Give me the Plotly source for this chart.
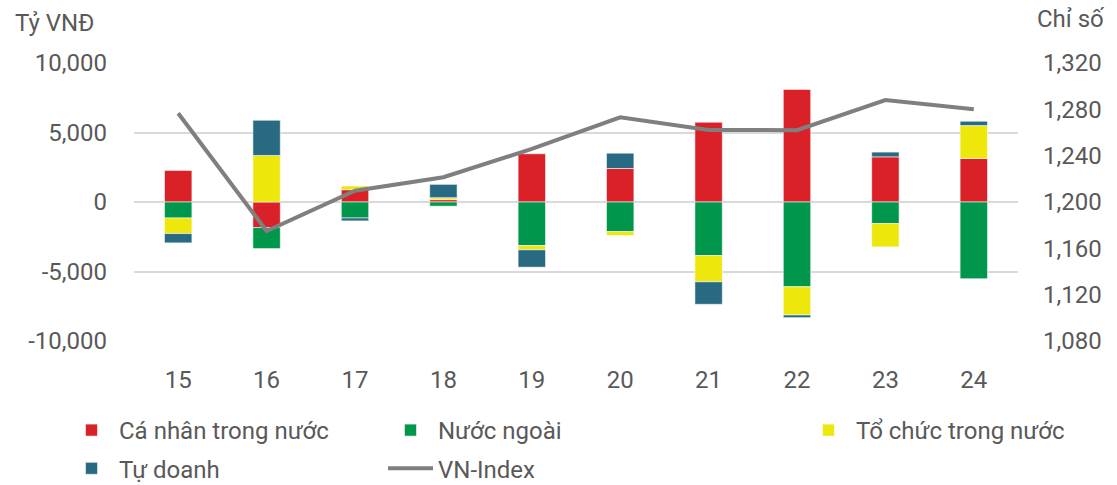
import plotly.graph_objects as go

categories = ["15", "16", "17", "18", "19", "20", "21", "22", "23", "24"]
ca_nhan = [2270, -1840, 885, 170, 3470, 2410, 5740, 8100, 3250, 3130]
nuoc_ngoai = [-1150, -1510, -1150, -300, -3130, -2130, -3850, -6100, -1550, -5520]
to_chuc = [-1120, 3350, 265, 140, -310, -280, -1890, -2030, -1680, 2370]
tu_doanh = [-670, 2530, -210, 960, -1250, 1100, -1620, -190, 340, 310]
vn_index = [1276.6, 1175, 1209.8, 1221.4, 1245.8, 1273.1, 1262.2, 1262, 1288, 1280]

left_ticks = [-10000, -5000, 0, 5000, 10000]
right_ticks = [1080, 1120, 1160, 1200, 1240, 1280, 1320]

FONT = "Roboto"
GREY = "#595959"
edge = dict(color="rgba(255,255,255,0.7)", width=0.8)

fig = go.Figure()
fig.add_bar(x=categories, y=ca_nhan, name="Cá nhân trong nước",
            marker=dict(color="#DA2128", line=edge), legend="legend",
            legendgroup="a", legendrank=1)
fig.add_bar(x=categories, y=nuoc_ngoai, name="Nước ngoài",
            marker=dict(color="#00964B", line=edge), legend="legend2",
            legendgroup="b", legendrank=1)
fig.add_bar(x=categories, y=to_chuc, name="Tổ chức trong nước",
            marker=dict(color="#EDE70C", line=edge), legend="legend3",
            legendgroup="c", legendrank=1)
fig.add_bar(x=categories, y=tu_doanh, name="Tự doanh",
            marker=dict(color="#286A82", line=edge), legend="legend",
            legendgroup="d", legendrank=2)
fig.add_scatter(x=categories, y=vn_index, name="VN-Index", mode="lines",
                line=dict(color="#7F7F7F", width=4), yaxis="y2",
                legend="legend2", legendgroup="e", legendrank=2)

leg_common = dict(orientation="v", xref="container", yref="container",
                  yanchor="top", xanchor="left", tracegroupgap=4,
                  font=dict(family=FONT, size=24, color=GREY),
                  bgcolor="rgba(0,0,0,0)", itemwidth=45, traceorder="grouped")

fmt = lambda v: ("-" if v < 0 else "") + f"{abs(v):,}"

LEG_Y = 1 - 408 / 485

fig.update_layout(
    width=1117, height=485,
    margin=dict(l=134, r=99, t=63, b=144, autoexpand=False),
    barmode="relative", bargap=0.69,
    plot_bgcolor="white", paper_bgcolor="white",
    font=dict(family=FONT, size=24, color=GREY),
    xaxis=dict(type="category", showgrid=False, showline=False, zeroline=False,
               ticks="", ticklabelstandoff=22, automargin=False,
               tickfont=dict(family=FONT, size=24, color=GREY)),
    yaxis=dict(range=[-10000, 10000], tickvals=left_ticks,
               ticktext=[fmt(v) for v in left_ticks],
               showgrid=True, gridcolor="#D9D9D9", gridwidth=1.5,
               zeroline=True, zerolinecolor="#D9D9D9", zerolinewidth=1.5,
               showline=False, ticks="", ticklabelstandoff=26, automargin=False,
               tickfont=dict(family=FONT, size=24, color=GREY)),
    yaxis2=dict(range=[1080, 1320], tickvals=right_ticks,
                ticktext=[fmt(v) for v in right_ticks],
                overlaying="y", side="right", showgrid=False, zeroline=False,
                showline=False, ticks="", ticklabelstandoff=24, automargin=False,
                tickfont=dict(family=FONT, size=24, color=GREY)),
    legend=dict(x=64 / 1117, y=LEG_Y, **leg_common),
    legend2=dict(x=383 / 1117, y=LEG_Y, **leg_common),
    legend3=dict(x=801 / 1117, y=LEG_Y, **leg_common),
    annotations=[
        dict(text="Tỷ VNĐ", xref="paper", yref="paper", x=-134 / 884 + 13 / 884,
             xanchor="left", y=1 + 40 / 278, yanchor="middle", showarrow=False,
             font=dict(family=FONT, size=24, color=GREY)),
        dict(text="Chỉ số", xref="paper", yref="paper", x=1 + 17 / 884,
             xanchor="left", y=1 + 44 / 278, yanchor="middle", showarrow=False,
             font=dict(family=FONT, size=24, color=GREY)),
    ],
)

fig.write_html("out.html", config={"displayModeBar": False},
               post_script="document.body.style.margin='0';")
